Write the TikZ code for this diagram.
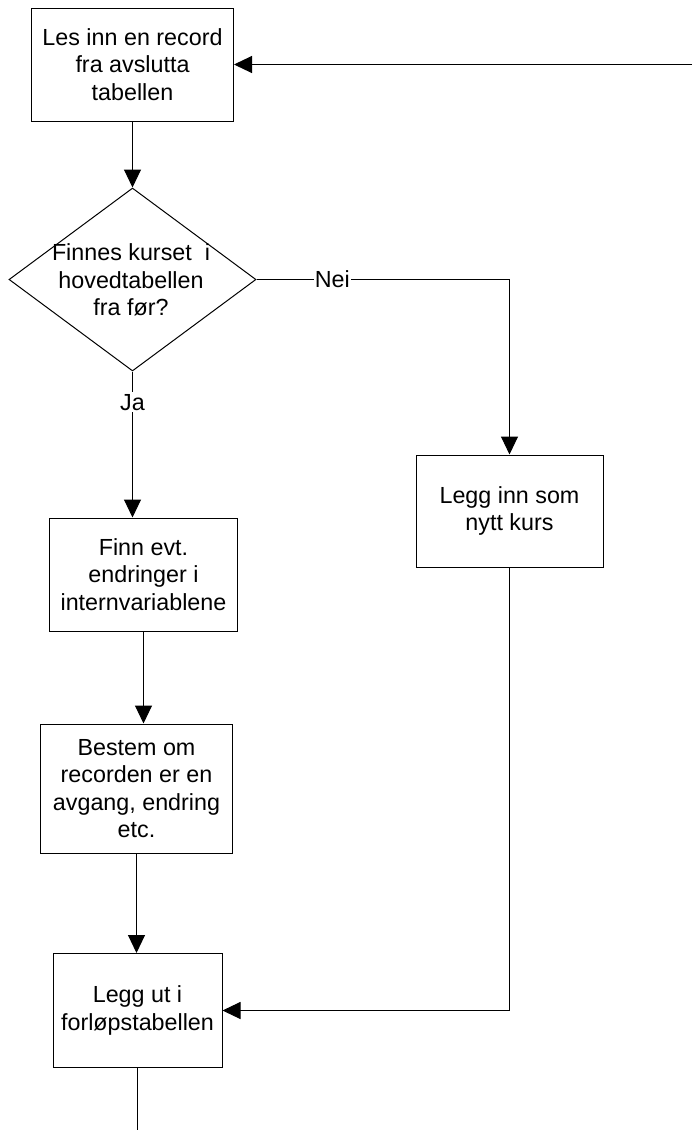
\documentclass[tikz,border=0pt]{standalone}
\usepackage{fontspec}
\setmainfont{Liberation Sans}
\usetikzlibrary{arrows.meta, shapes.geometric}

\begin{document}
\begin{tikzpicture}[x=0.5pt, y=-0.5pt,
    every node/.style={font=\fontsize{11.65}{13.75}\selectfont, align=center},
    boks/.style={draw, line width=0.5pt, inner sep=0pt},
    pil/.style={line width=0.5pt, -{Triangle[length=9pt, width=8.5pt]}},
    strek/.style={line width=0.5pt},
    merke/.style={fill=white, inner sep=1pt}]
    % Frame
    \useasboundingbox (0,0) rectangle (692,1130);
    % Boxes
    \node[boks, minimum width=101pt, minimum height=56.5pt] (les) at (132.5,64.5) {Les inn en record\\fra avslutta\\tabellen};
    \node[boks, diamond, minimum width=123.5pt, minimum height=91.5pt] (finnes) at (132.5,279.5) {};
    \node (finnestxt) at (131,280) {Finnes kurset\ \ i\\hovedtabellen\\fra før?};
    \node[boks, minimum width=94pt, minimum height=56.5pt] (finn) at (143.5,574.5) {Finn evt.\\endringer i\\internvariablene};
    \node[boks, minimum width=96pt, minimum height=64.5pt] (bestem) at (136.5,788.5) {Bestem om\\recorden er en\\avgang, endring\\etc.};
    \node[boks, minimum width=93.5pt, minimum height=56pt] (nytt) at (509.5,511) {Legg inn som\\nytt kurs};
    \node[boks, minimum width=84.5pt, minimum height=57pt] (forlop) at (137.5,1010.5) {Legg ut i\\forløpstabellen};
    % Loose ends
    \coordinate (retur) at (692,64.5);
    \coordinate (ende) at (137.5,1130);
    % Arrows
    \draw[pil] (retur) -- (les.east);
    \draw[pil] (les.south) -- (finnes.north);
    \draw[pil] (finnes.east) -- node[merke, pos=0.3, inner sep=0.5pt] (nei) {Nei} (finnes.east -| nytt.north) -- (nytt.north);
    \draw[pil] (finnes.south) -- node[merke, pos=0.21] (ja) {Ja} (finnes.south |- finn.north);
    \draw[pil] (finn.south) -- (finn.south |- bestem.north);
    \draw[pil] (bestem.south) -- (bestem.south |- forlop.north);
    \draw[pil] (nytt.south) |- (forlop.east);
    \draw[strek] (forlop.south) -- (ende);
\end{tikzpicture}
\end{document}
